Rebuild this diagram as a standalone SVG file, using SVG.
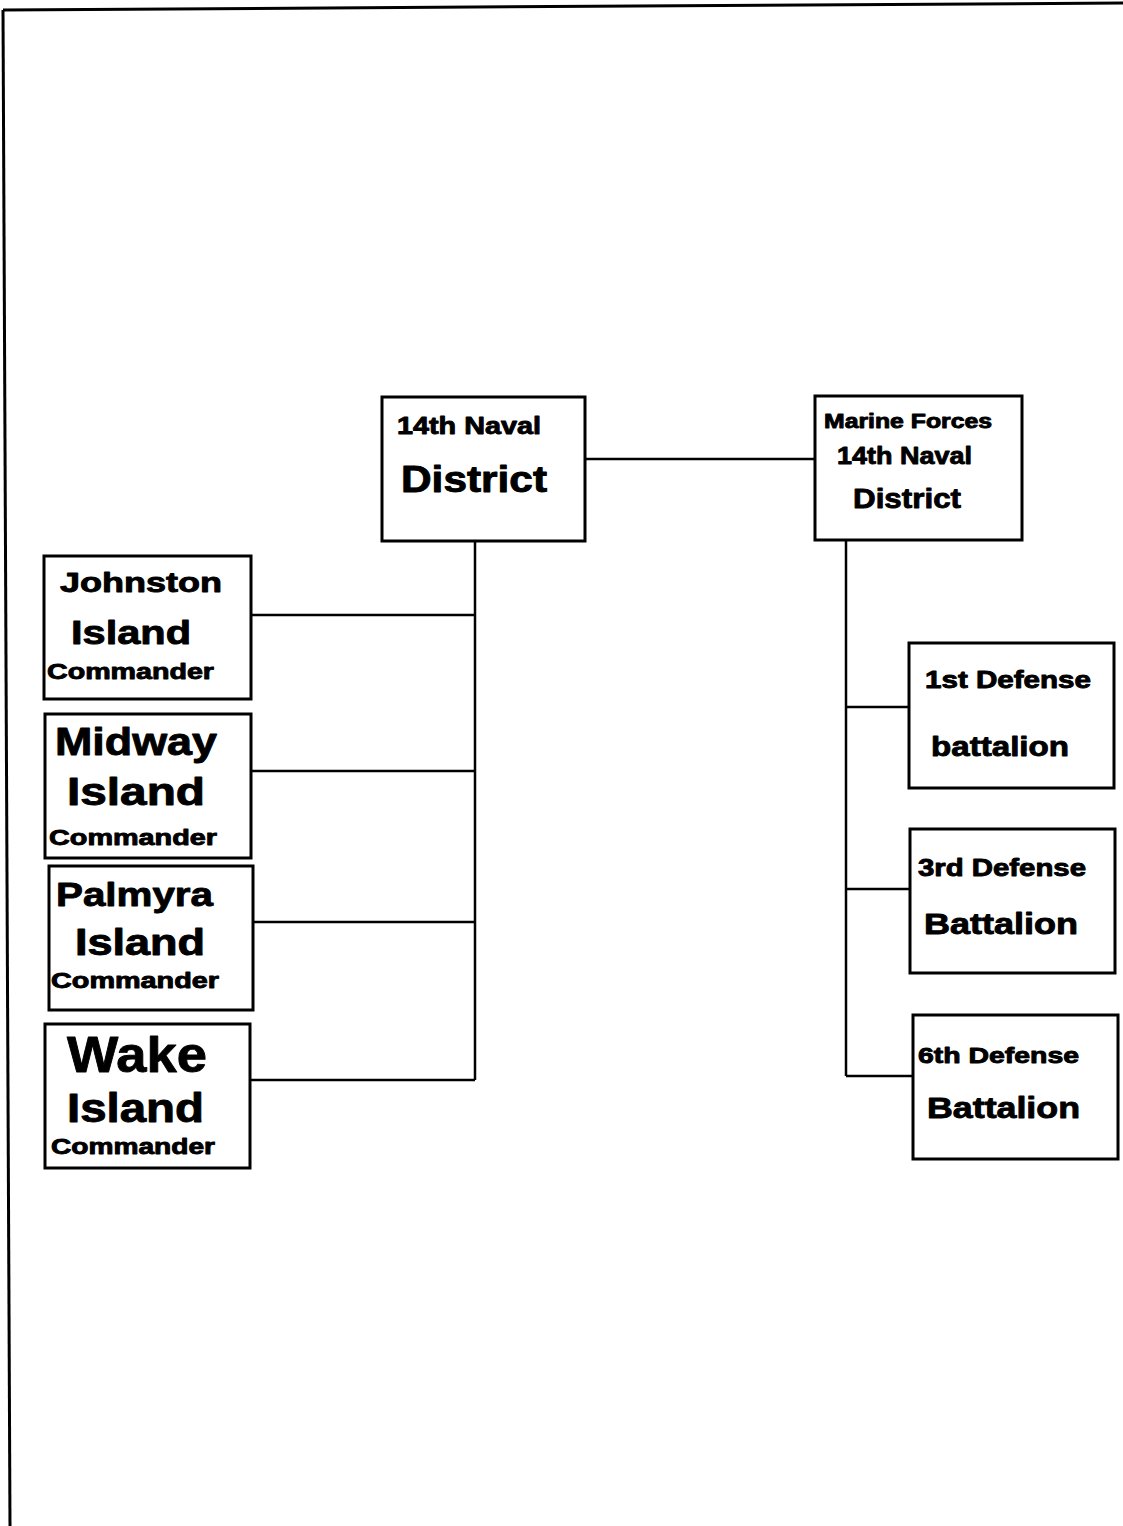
<svg xmlns="http://www.w3.org/2000/svg" width="1123" height="1526" viewBox="0 0 1123 1526">
  <style>
    .box { fill: #fff; stroke: #000; stroke-width: 3; }
    .wire { fill: none; stroke: #000; stroke-width: 2.5; }
    .frame { fill: none; stroke: #000; stroke-width: 3; }
    text { font-family: "Liberation Sans", Arial, sans-serif; font-weight: bold; fill: #000; stroke: #000; stroke-width: 0.9; stroke-linejoin: round; }
  </style>
  <rect width="1123" height="1526" fill="#fff"/>

  <!-- page frame -->
  <g id="frame">
    <path class="frame" d="M3,10 L1123,3"/>
    <path class="frame" d="M3,10 L10,1526"/>
  </g>

  <!-- connectors -->
  <g id="connectors">
    <path class="wire" d="M585,459 H815"/>
    <path class="wire" d="M475,541 V1080"/>
    <path class="wire" d="M251,615 H475"/>
    <path class="wire" d="M251,771 H475"/>
    <path class="wire" d="M253,922 H475"/>
    <path class="wire" d="M250,1080 H475"/>
    <path class="wire" d="M846,540 V1076"/>
    <path class="wire" d="M846,707 H909"/>
    <path class="wire" d="M846,889 H910"/>
    <path class="wire" d="M846,1076 H913"/>
  </g>

  <g id="naval-district">
    <rect class="box" x="382" y="397" width="203" height="144"/>
    <text x="397" y="434" font-size="24" textLength="144" lengthAdjust="spacingAndGlyphs">14th Naval</text>
    <text x="401" y="492" font-size="36" textLength="146" lengthAdjust="spacingAndGlyphs">District</text>
  </g>

  <g id="marine-forces">
    <rect class="box" x="815" y="396" width="207" height="144"/>
    <text x="824" y="428" font-size="20" textLength="168" lengthAdjust="spacingAndGlyphs">Marine Forces</text>
    <text x="837" y="464" font-size="24" textLength="135" lengthAdjust="spacingAndGlyphs">14th Naval</text>
    <text x="853" y="508" font-size="28" textLength="108" lengthAdjust="spacingAndGlyphs">District</text>
  </g>

  <g id="johnston">
    <rect class="box" x="44" y="556" width="207" height="143"/>
    <text x="60" y="592" font-size="28" textLength="162" lengthAdjust="spacingAndGlyphs">Johnston</text>
    <text x="71" y="644" font-size="34" textLength="120" lengthAdjust="spacingAndGlyphs">Island</text>
    <text x="47" y="679" font-size="22" textLength="167" lengthAdjust="spacingAndGlyphs">Commander</text>
  </g>

  <g id="midway">
    <rect class="box" x="45" y="714" width="206" height="144"/>
    <text x="55" y="755" font-size="38" textLength="162" lengthAdjust="spacingAndGlyphs">Midway</text>
    <text x="67" y="805" font-size="38" textLength="138" lengthAdjust="spacingAndGlyphs">Island</text>
    <text x="49" y="845" font-size="22" textLength="168" lengthAdjust="spacingAndGlyphs">Commander</text>
  </g>

  <g id="palmyra">
    <rect class="box" x="49" y="866" width="204" height="144"/>
    <text x="56" y="906" font-size="34" textLength="157" lengthAdjust="spacingAndGlyphs">Palmyra</text>
    <text x="75" y="955" font-size="36" textLength="130" lengthAdjust="spacingAndGlyphs">Island</text>
    <text x="51" y="988" font-size="22" textLength="168" lengthAdjust="spacingAndGlyphs">Commander</text>
  </g>

  <g id="wake">
    <rect class="box" x="45" y="1024" width="205" height="144"/>
    <text x="67" y="1072" font-size="50" textLength="140" lengthAdjust="spacingAndGlyphs">Wake</text>
    <text x="67" y="1122" font-size="40" textLength="137" lengthAdjust="spacingAndGlyphs">Island</text>
    <text x="51" y="1154" font-size="22" textLength="164" lengthAdjust="spacingAndGlyphs">Commander</text>
  </g>

  <g id="first-defense">
    <rect class="box" x="909" y="643" width="205" height="145"/>
    <text x="925" y="688" font-size="24" textLength="166" lengthAdjust="spacingAndGlyphs">1st Defense</text>
    <text x="931" y="756" font-size="28" textLength="138" lengthAdjust="spacingAndGlyphs">battalion</text>
  </g>

  <g id="third-defense">
    <rect class="box" x="910" y="829" width="205" height="144"/>
    <text x="918" y="876" font-size="24" textLength="168" lengthAdjust="spacingAndGlyphs">3rd Defense</text>
    <text x="924" y="934" font-size="30" textLength="154" lengthAdjust="spacingAndGlyphs">Battalion</text>
  </g>

  <g id="sixth-defense">
    <rect class="box" x="913" y="1015" width="205" height="144"/>
    <text x="918" y="1063" font-size="22" textLength="161" lengthAdjust="spacingAndGlyphs">6th Defense</text>
    <text x="927" y="1118" font-size="30" textLength="153" lengthAdjust="spacingAndGlyphs">Battalion</text>
  </g>
</svg>
